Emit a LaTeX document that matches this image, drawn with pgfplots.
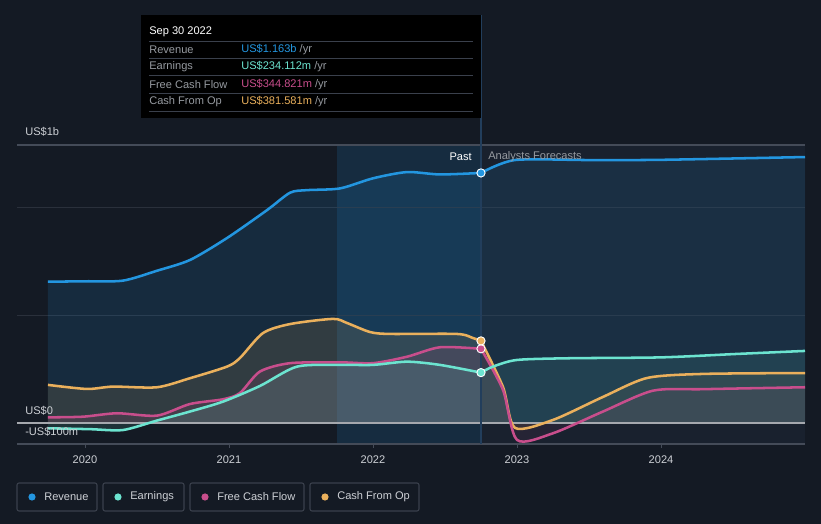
\documentclass[border=0pt]{standalone}
\usepackage{pgfplots}
\pgfplotsset{compat=1.18}
\usepackage{fontspec}
\setmainfont{Liberation Sans}
\definecolor{bg}{RGB}{20,26,36}
\definecolor{fcbg}{RGB}{25,33,46}
\definecolor{rev}{RGB}{35,150,224}
\definecolor{earn}{RGB}{108,228,208}
\definecolor{fcf}{RGB}{200,78,140}
\definecolor{cfo}{RGB}{234,176,92}
\definecolor{gridc}{RGB}{42,48,59}
\definecolor{axc}{RGB}{68,75,88}
\definecolor{zeroc}{RGB}{165,168,174}
\definecolor{lbl}{RGB}{205,208,213}
\definecolor{dimtxt}{RGB}{150,154,160}
\definecolor{boxc}{RGB}{58,64,76}
\definecolor{divc}{RGB}{34,62,92}

\pgfplotstableread{
t v
2019.743 657
2020.000 659
2020.264 662
2020.500 708
2020.729 758
2020.986 860
2021.264 990
2021.424 1071
2021.542 1083
2021.771 1091
2022.000 1138
2022.236 1167
2022.465 1156
2022.750 1163
}\revpast
\pgfplotstableread{
t v
2022.750 1163
2022.986 1223
2023.500 1223
2024.000 1224
2025.000 1237
}\revfc
\pgfplotstableread{
t v
2019.743 -25
2020.035 -29
2020.264 -33
2020.500 11
2020.729 53
2020.958 99
2021.215 172
2021.472 262
2021.771 270
2022.000 270
2022.236 285
2022.465 270
2022.750 234
}\earnpast
\pgfplotstableread{
t v
2022.750 234
2022.833 262
2023.000 293
2023.368 301
2024.000 305
2024.528 321
2025.000 335
}\earnfc
\pgfplotstableread{
t v
2019.743 26
2019.986 29
2020.222 45
2020.500 34
2020.729 88
2020.958 110
2021.076 139
2021.215 239
2021.424 278
2021.771 282
2022.000 278
2022.236 308
2022.465 352
2022.750 345
}\fcfpast
\pgfplotstableread{
t v
2022.750 345
2022.903 153
2023.000 -79
2023.250 -48
2023.597 53
2023.944 150
2024.292 157
2025.000 166
}\fcffc
\pgfplotstableread{
t v
2019.743 177
2020.014 158
2020.194 169
2020.500 166
2020.729 208
2020.986 262
2021.076 302
2021.236 418
2021.424 460
2021.722 484
2021.819 465
2021.979 423
2022.118 414
2022.583 414
2022.694 395
2022.750 382
}\cfopast
\pgfplotstableread{
t v
2022.750 382
2022.903 167
2022.986 -23
2023.250 14
2023.597 121
2023.903 209
2024.292 228
2025.000 232
}\cfofc

\begin{document}
\begin{tikzpicture}[x=0.75pt,y=0.75pt,font=\fontsize{8.3pt}{10pt}\selectfont]
\fill[bg] (0,0) rectangle (821,524);
\begin{axis}[
  at={(12.75pt,60pt)}, anchor=south west,
  scale only axis, width=591pt, height=224.25pt,
  xmin=2019.528, xmax=2025.0, ymin=-98, ymax=1293,
  clip=false,
  axis line style={draw=none},
  xtick={2020,2021,2022,2023,2024},
  xticklabels={2020,2021,2022,2023,2024},
  x tick label style={font=\fontsize{8.3pt}{10pt}\selectfont, text=lbl, yshift=-2pt},
  tick pos=bottom, tick align=outside,
  major tick length=3pt,
  xtick style={draw=axc, line width=0.6pt},
  ytick={500,1000}, yticklabels={},
  ytick style={draw=none},
  /pgf/number format/assume math mode=true,
]
% region backgrounds
\fill[fcbg] (axis cs:2022.75,-98) rectangle (axis cs:2025.0,1293);
\fill[rev, fill opacity=0.15] (axis cs:2021.75,-98) rectangle (axis cs:2022.75,1293);
\draw[gridc, line width=0.75pt] (axis cs:2019.528,500) -- (axis cs:2025,500);
\draw[gridc, line width=0.75pt] (axis cs:2019.528,1000) -- (axis cs:2025,1000);
% fills
\addplot[draw=none, fill=rev, fill opacity=0.14, smooth, tension=0.45] table[x=t,y=v]{\revpast} \closedcycle;
\addplot[draw=none, fill=rev, fill opacity=0.12, smooth, tension=0.45] table[x=t,y=v]{\revfc} \closedcycle;
\addplot[draw=none, fill=cfo, fill opacity=0.13, smooth, tension=0.45] table[x=t,y=v]{\cfopast} \closedcycle;
\addplot[draw=none, fill=cfo, fill opacity=0.08, smooth, tension=0.45] table[x=t,y=v]{\cfofc} \closedcycle;
\addplot[draw=none, fill=fcf, fill opacity=0.12, smooth, tension=0.45] table[x=t,y=v]{\fcfpast} \closedcycle;
\addplot[draw=none, fill=fcf, fill opacity=0.08, smooth, tension=0.45] table[x=t,y=v]{\fcffc} \closedcycle;
\addplot[draw=none, fill=earn, fill opacity=0.12, smooth, tension=0.45] table[x=t,y=v]{\earnpast} \closedcycle;
\addplot[draw=none, fill=earn, fill opacity=0.10, smooth, tension=0.45] table[x=t,y=v]{\earnfc} \closedcycle;
% zero line, top and bottom lines
\draw[zeroc, line width=1.2pt] (axis cs:2019.528,0) -- (axis cs:2025,0);
\draw[axc, line width=0.8pt] (axis cs:2019.528,-98) -- (axis cs:2025,-98);
\draw[axc, line width=0.8pt] (axis cs:2019.528,1293) -- (axis cs:2025,1293);
% divider
\draw[divc, line width=0.9pt] (axis cs:2022.75,-98) -- (axis cs:2022.75,1898);
% lines
\addplot[rev, line width=1.9pt, smooth, tension=0.45] table[x=t,y=v]{\revpast};
\addplot[rev, line width=1.9pt, smooth, tension=0.45] table[x=t,y=v]{\revfc};
\addplot[cfo, line width=1.9pt, smooth, tension=0.45] table[x=t,y=v]{\cfopast};
\addplot[cfo, line width=1.9pt, smooth, tension=0.45] table[x=t,y=v]{\cfofc};
\addplot[fcf, line width=1.9pt, smooth, tension=0.45] table[x=t,y=v]{\fcfpast};
\addplot[fcf, line width=1.9pt, smooth, tension=0.45] table[x=t,y=v]{\fcffc};
\addplot[earn, line width=1.9pt, smooth, tension=0.45] table[x=t,y=v]{\earnpast};
\addplot[earn, line width=1.9pt, smooth, tension=0.45] table[x=t,y=v]{\earnfc};
% markers at Sep 30 2022
\addplot[only marks, mark=*, mark size=3.1pt, mark options={fill=rev, draw=white, line width=0.7pt}] coordinates {(2022.75,1163)};
\addplot[only marks, mark=*, mark size=3.1pt, mark options={fill=earn, draw=white, line width=0.7pt}] coordinates {(2022.75,234.112)};
\addplot[only marks, mark=*, mark size=3.1pt, mark options={fill=fcf, draw=white, line width=0.7pt}] coordinates {(2022.75,344.821)};
\addplot[only marks, mark=*, mark size=3.1pt, mark options={fill=cfo, draw=white, line width=0.7pt}] coordinates {(2022.75,381.581)};
\end{axis}
% y labels
\node[anchor=west, text=lbl, inner sep=0] at (25,392) {US\$1b};
\node[anchor=west, text=lbl, inner sep=0] at (25,113) {US\$0};
\node[anchor=west, text=lbl, inner sep=0] at (25,92) {-US\$100m};
% past / forecast
\node[anchor=east, text=white, inner sep=0] at (472,367) {Past};
\node[anchor=west, text=dimtxt, inner sep=0] at (488,367) {Analysts Forecasts};
% tooltip
\fill[black] (141,509) rectangle (481,406);
\node[anchor=west, text=white, inner sep=0] at (149,492) {Sep 30 2022};
\foreach \yy in {483,466,449,431,413} { \draw[boxc, line width=0.6pt] (149,\yy) -- (473,\yy); }
\node[anchor=west, text=dimtxt, inner sep=0] at (149,474) {Revenue};
\node[anchor=west, text=dimtxt, inner sep=0] at (149,457) {Earnings};
\node[anchor=west, text=dimtxt, inner sep=0] at (149,439) {Free Cash Flow};
\node[anchor=west, text=dimtxt, inner sep=0] at (149,422) {Cash From Op};
\node[anchor=west, inner sep=0] at (241,474) {\textcolor{rev}{US\$1.163b} \textcolor{dimtxt}{/yr}};
\node[anchor=west, inner sep=0] at (241,457) {\textcolor{earn}{US\$234.112m} \textcolor{dimtxt}{/yr}};
\node[anchor=west, inner sep=0] at (241,439) {\textcolor{fcf}{US\$344.821m} \textcolor{dimtxt}{/yr}};
\node[anchor=west, inner sep=0] at (241,422) {\textcolor{cfo}{US\$381.581m} \textcolor{dimtxt}{/yr}};
% legend
\draw[boxc, line width=0.8pt, rounded corners=1.5pt] (17,13) rectangle (97,41);
\draw[boxc, line width=0.8pt, rounded corners=1.5pt] (103,13) rectangle (184,41);
\draw[boxc, line width=0.8pt, rounded corners=1.5pt] (190,13) rectangle (304,41);
\draw[boxc, line width=0.8pt, rounded corners=1.5pt] (310,13) rectangle (419,41);
\fill[rev] (32,27) circle (3.6);
\fill[earn] (118,27) circle (3.6);
\fill[fcf] (205,27) circle (3.6);
\fill[cfo] (325,27) circle (3.6);
\node[anchor=west, text=lbl, inner sep=0] at (44,27) {Revenue};
\node[anchor=west, text=lbl, inner sep=0] at (130,27) {Earnings};
\node[anchor=west, text=lbl, inner sep=0] at (217,27) {Free Cash Flow};
\node[anchor=west, text=lbl, inner sep=0] at (337,27) {Cash From Op};
\end{tikzpicture}
\end{document}
